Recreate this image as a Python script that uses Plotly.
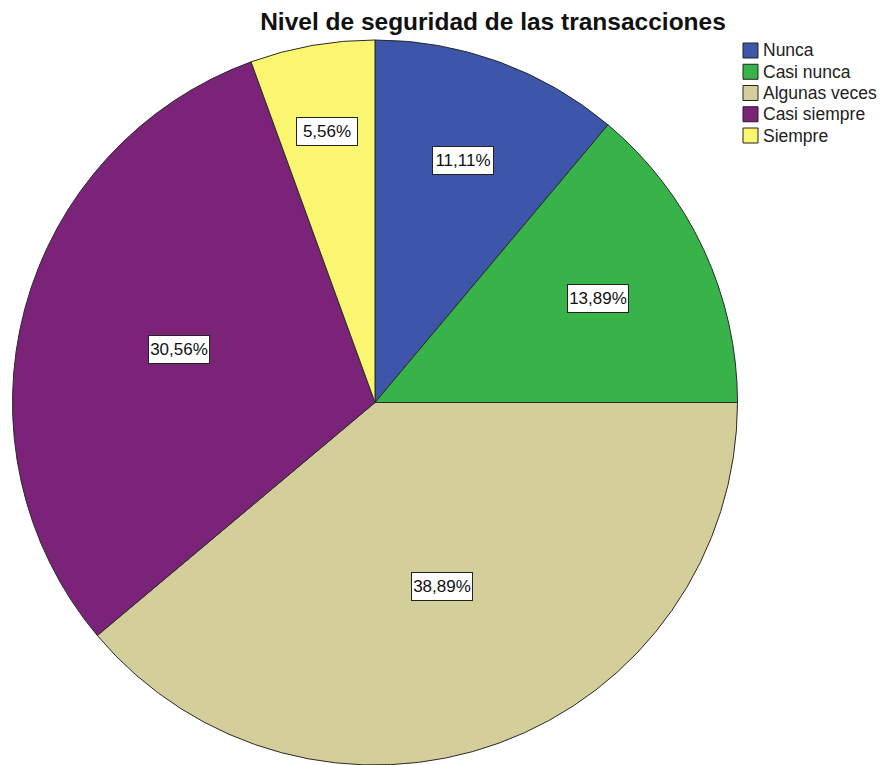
import math
import plotly.graph_objects as go

# Survey responses: "Nivel de seguridad de las transacciones" (n = 36)
categories = ["Nunca", "Casi nunca", "Algunas veces", "Casi siempre", "Siempre"]
counts = [4, 5, 14, 11, 2]
colors = ["#3d56a9", "#38b34a", "#d4ce9a", "#7a2379", "#fbf66f"]

W, H = 885, 765
FONT = "Liberation Sans, Arial, sans-serif"
# Pie placement in pixels (left, right, top of the circle)
PIE_LEFT, PIE_RIGHT, PIE_TOP = 11, 739, 40
# Radial position of each value label, as a fraction of the radius
LABEL_RADIUS = [0.71, 0.68, 0.54, 0.56, 0.76]
# Legend block: swatch left edge, first swatch top, swatch size, row pitch (px)
LEG_X, LEG_Y, LEG_BOX, LEG_STEP = 743, 43, 15, 21.25

total = sum(counts)
percents = [100.0 * c / total for c in counts]

dom_x = [PIE_LEFT / W, PIE_RIGHT / W]
dom_y = [0.0, 1 - PIE_TOP / H]

fig = go.Figure(
    go.Pie(
        labels=categories,
        values=counts,
        sort=False,
        direction="clockwise",
        rotation=0,
        marker=dict(colors=colors, line=dict(color="#2a2a2a", width=1)),
        textinfo="none",
        hovertemplate="%{label}: %{percent:.2%}<extra></extra>",
        domain=dict(x=dom_x, y=dom_y),
        showlegend=False,
    )
)


def px_x(x):
    return x / W


def px_y(y):
    return 1 - y / H


# Pie geometry in pixels, derived from the domain
dw = (dom_x[1] - dom_x[0]) * W
dh = (dom_y[1] - dom_y[0]) * H
r = min(dw, dh) / 2
cx = (dom_x[0] + dom_x[1]) / 2 * W
cy = H - (dom_y[0] + dom_y[1]) / 2 * H

annotations = []
shapes = []

# Boxed percentage labels at each slice's mid-angle
cum = 0.0
for pct, frac in zip(percents, LABEL_RADIUS):
    mid = 2 * math.pi * (cum + pct / 2) / 100.0
    cum += pct
    annotations.append(
        dict(
            x=px_x(cx + frac * r * math.sin(mid)),
            y=px_y(cy - frac * r * math.cos(mid)),
            xref="paper",
            yref="paper",
            text=f"{pct:.2f}%".replace(".", ","),
            showarrow=False,
            font=dict(family=FONT, size=17, color="#111111"),
            bgcolor="white",
            bordercolor="#222222",
            borderwidth=1,
            borderpad=1,
            width=58,
            height=25,
            xanchor="center",
            yanchor="middle",
        )
    )

# Legend: bordered colour swatches with category names
for i, (name, col) in enumerate(zip(categories, colors)):
    top = LEG_Y + i * LEG_STEP
    shapes.append(
        dict(
            type="rect",
            xref="paper",
            yref="paper",
            x0=px_x(LEG_X),
            x1=px_x(LEG_X + LEG_BOX),
            y0=px_y(top + LEG_BOX),
            y1=px_y(top),
            fillcolor=col,
            line=dict(color="#222222", width=1),
        )
    )
    annotations.append(
        dict(
            x=px_x(LEG_X + LEG_BOX + 3),
            y=px_y(top + LEG_BOX / 2),
            xref="paper",
            yref="paper",
            text=name,
            showarrow=False,
            font=dict(family=FONT, size=17.5, color="#222222"),
            xanchor="left",
            yanchor="middle",
        )
    )

fig.update_layout(
    width=W,
    height=H,
    margin=dict(l=0, r=0, t=0, b=0),
    paper_bgcolor="white",
    plot_bgcolor="white",
    title=dict(
        text="<b>Nivel de seguridad de las transacciones</b>",
        x=px_x(493),
        xanchor="center",
        y=px_y(21),
        yanchor="middle",
        font=dict(family=FONT, size=24.5, color="#111111"),
    ),
    showlegend=False,
    annotations=annotations,
    shapes=shapes,
)

fig.write_html("out.html")
